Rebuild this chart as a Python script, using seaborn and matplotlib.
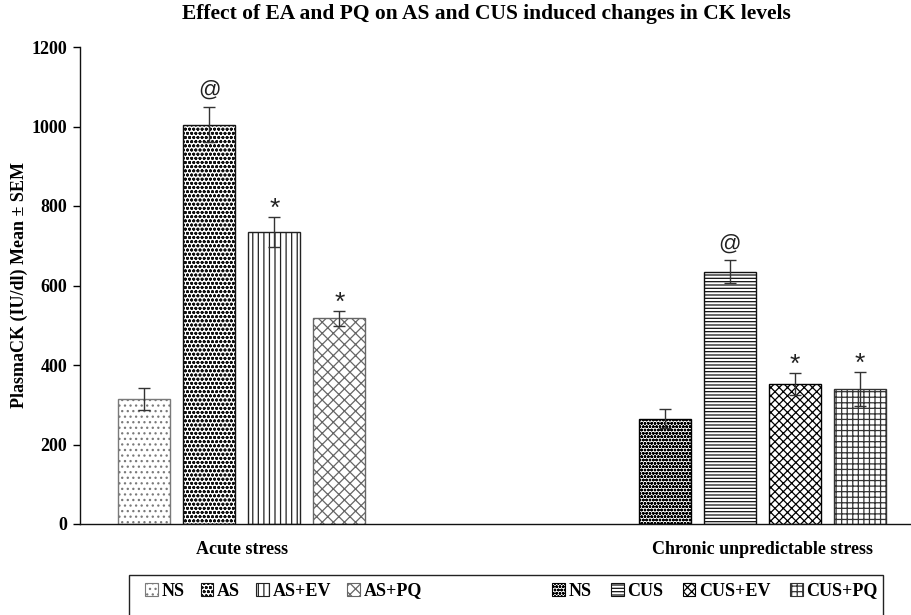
import matplotlib
matplotlib.use("Agg")
import matplotlib.pyplot as plt
import matplotlib.patches as mpatches
import seaborn as sns
import pandas as pd

# data
groups = ["Acute stress", "Chronic unpredictable stress"]
acute_labels = ["NS", "AS", "AS+EV", "AS+PQ"]
chronic_labels = ["NS", "CUS", "CUS+EV", "CUS+PQ"]
acute_mean = [315, 1005, 735, 517]
acute_sem = [27, 45, 38, 20]
chronic_mean = [265, 635, 353, 340]
chronic_sem = [24, 28, 28, 43]
acute_marks = ["", "@", "*", "*"]
chronic_marks = ["", "@", "*", "*"]

# build a long table; keys keep the two "NS" bars apart
rows = []
for g, labels, means, sems, marks in [
    (groups[0], acute_labels, acute_mean, acute_sem, acute_marks),
    (groups[1], chronic_labels, chronic_mean, chronic_sem, chronic_marks),
]:
    for lab, m, s, mk in zip(labels, means, sems, marks):
        rows.append({"key": f"{g}|{lab}", "group": g, "label": lab,
                     "mean": m, "sem": s, "mark": mk})
df = pd.DataFrame(rows)

gap_keys = [f"gap{i}" for i in range(4)]
order = list(df["key"][:4]) + gap_keys + list(df["key"][4:])

# hatch styles per bar (acute then chronic)
styles = [
    ("...", "#7a7a7a"),
    ("oooo", "#111111"),
    ("|||", "#222222"),
    ("xxx", "#666666"),
    ("ooooo", "#000000"),
    ("-----", "#111111"),
    ("xxxx", "#000000"),
    ("+++", "#333333"),
]

serif = "Liberation Serif"
sans = "Liberation Sans"
plt.rcParams["hatch.linewidth"] = 0.9

fig = plt.figure(figsize=(9.12, 6.15), dpi=100)
ax = fig.add_axes([80 / 912, 91 / 615, 832 / 912, 477 / 615])

sns.barplot(data=df, x="key", y="mean", order=order, ax=ax,
            color="white", width=0.8, errorbar=None, linewidth=1.0)

key_style = dict(zip(df["key"], styles))
for p in ax.patches:
    idx = int(round(p.get_x() + p.get_width() / 2))
    k = order[idx]
    if k in key_style:
        h, c = key_style[k]
        p.set_facecolor("white")
        p.set_edgecolor(c)
        p.set_hatch(h)

xpos = [order.index(k) for k in df["key"]]
ax.errorbar(xpos, df["mean"], yerr=df["sem"], fmt="none", ecolor="#333333",
            elinewidth=1.0, capsize=4, capthick=1.0)

for x, m, s, mk in zip(xpos, df["mean"], df["sem"], df["mark"]):
    if mk == "@":
        ax.text(x, m + s + 14, mk, ha="center", va="bottom",
                fontsize=16, family=sans, color="#222222")
    elif mk:
        ax.text(x, m + s - 10, mk, ha="center", va="bottom",
                fontsize=19, family=sans, color="#222222")

ax.set_ylim(0, 1200)
ax.set_xlim(-0.985, 11.8)
ax.set_yticks(range(0, 1201, 200))
ax.set_xticks([1.5, 9.5])
ax.set_xticklabels(groups)
ax.tick_params(axis="x", length=0, pad=12)
ax.tick_params(axis="y", length=5, width=1, direction="out", pad=4)
for lab in ax.get_xticklabels() + ax.get_yticklabels():
    lab.set_fontfamily(serif)
    lab.set_fontweight("bold")
    lab.set_fontsize(13)
ax.set_xlabel("")
ax.set_ylabel("PlasmaCK (IU/dl) Mean \u00b1 SEM", family=serif,
              fontweight="bold", fontsize=13, labelpad=3)
for sp in ["top", "right"]:
    ax.spines[sp].set_visible(False)
for sp in ["left", "bottom"]:
    ax.spines[sp].set_linewidth(1.0)
    ax.spines[sp].set_color("#111111")

fig.text(486 / 912, 1 - 14 / 615, "Effect of EA and PQ on AS and CUS induced changes in CK levels",
         ha="center", va="center", family=serif, fontweight="bold", fontsize=15.5)

# legend box that runs off the bottom edge
fig.add_artist(mpatches.Rectangle((129 / 912, -0.05), (883 - 129) / 912, 40 / 615 + 0.05,
                                  transform=fig.transFigure, fill=False,
                                  edgecolor="#222222", linewidth=1.0))

legend_labels = acute_labels + chronic_labels
handles = [mpatches.Patch(facecolor="white", edgecolor=c, hatch=h, linewidth=0.8)
           for h, c in styles]
prop = {"family": serif, "weight": "bold", "size": 13}
for sl, x0, cs in [(slice(0, 4), 138, 0.9), (slice(4, 8), 545, 1.08)]:
    leg = fig.legend(handles[sl], legend_labels[sl], loc="center left",
                     bbox_to_anchor=(x0 / 912, 1 - 591 / 615), ncol=4,
                     frameon=False, prop=prop, handlelength=0.7, handleheight=0.7,
                     handletextpad=0.2, columnspacing=cs, borderaxespad=0)

fig.savefig("out.png", dpi=100, facecolor="white")
